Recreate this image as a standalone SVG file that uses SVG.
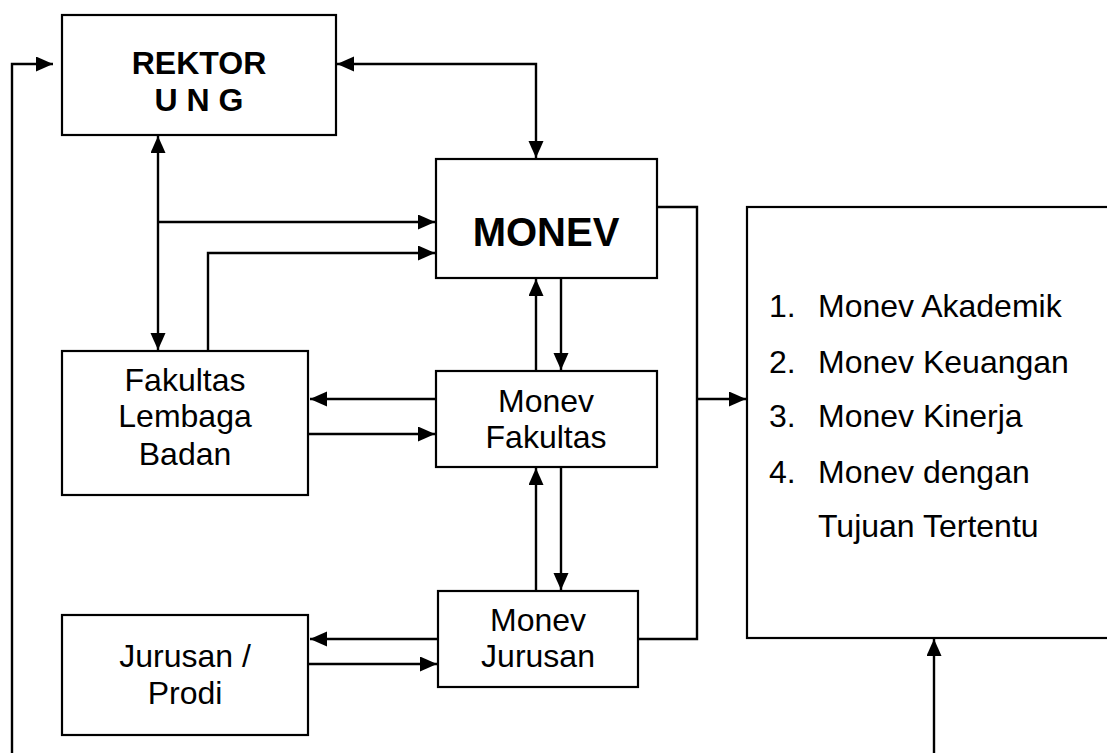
<svg xmlns="http://www.w3.org/2000/svg" width="1107" height="753" viewBox="0 0 1107 753">
  <style>
    .box { fill: #ffffff; stroke: #000000; stroke-width: 2.2; }
    .wire { fill: none; stroke: #000000; stroke-width: 2.4; }
    .lbl { font-family: "Liberation Sans", Arial, sans-serif; font-size: 32px; fill: #000000; text-anchor: middle; }
    .bold { font-weight: bold; }
    .item { font-family: "Liberation Sans", Arial, sans-serif; font-size: 32px; fill: #000000; }
  </style>
  <defs>
    <marker id="arrow" markerUnits="userSpaceOnUse" markerWidth="19" markerHeight="16" refX="17" refY="7.5" orient="auto-start-reverse">
      <path d="M0,0 L17,7.5 L0,15 Z" fill="#000000"/>
    </marker>
  </defs>
  <rect width="1107" height="753" fill="#ffffff"/>

  <g id="connectors">
    <!-- feedback loop along the left edge into REKTOR -->
    <polyline class="wire" points="12,753 12,64 53,64" marker-end="url(#arrow)"/>
    <!-- REKTOR <-> MONEV -->
    <polyline class="wire" points="337,64 536,64 536,158" marker-start="url(#arrow)" marker-end="url(#arrow)"/>
    <!-- REKTOR <-> Fakultas -->
    <line class="wire" x1="158" y1="136" x2="158" y2="350" marker-start="url(#arrow)" marker-end="url(#arrow)"/>
    <line class="wire" x1="158" y1="222" x2="435" y2="222" marker-end="url(#arrow)"/>
    <polyline class="wire" points="208,351 208,253 435,253" marker-end="url(#arrow)"/>
    <!-- MONEV <-> Monev Fakultas -->
    <line class="wire" x1="536" y1="371" x2="536" y2="279" marker-end="url(#arrow)"/>
    <line class="wire" x1="561" y1="279" x2="561" y2="370" marker-end="url(#arrow)"/>
    <!-- Monev Fakultas <-> Fakultas -->
    <line class="wire" x1="436" y1="399" x2="310" y2="399" marker-end="url(#arrow)"/>
    <line class="wire" x1="308" y1="434" x2="435" y2="434" marker-end="url(#arrow)"/>
    <!-- Monev Fakultas <-> Monev Jurusan -->
    <line class="wire" x1="536" y1="591" x2="536" y2="468" marker-end="url(#arrow)"/>
    <line class="wire" x1="561" y1="467" x2="561" y2="590" marker-end="url(#arrow)"/>
    <!-- Monev Jurusan <-> Jurusan / Prodi -->
    <line class="wire" x1="438" y1="639" x2="310" y2="639" marker-end="url(#arrow)"/>
    <line class="wire" x1="308" y1="664" x2="437" y2="664" marker-end="url(#arrow)"/>
    <!-- collector from MONEV and Monev Jurusan into the result list -->
    <polyline class="wire" points="657,207 697,207 697,639 638,639"/>
    <line class="wire" x1="697" y1="399" x2="746" y2="399" marker-end="url(#arrow)"/>
    <!-- feedback from below into the result list -->
    <line class="wire" x1="934" y1="753" x2="934" y2="639" marker-end="url(#arrow)"/>
  </g>

  <g id="rektor">
    <rect class="box" x="62" y="15" width="274" height="120"/>
    <text class="lbl bold" x="199" y="74">REKTOR</text>
    <text class="lbl bold" x="199" y="111">U N G</text>
  </g>

  <g id="monev">
    <rect class="box" x="436" y="159" width="221" height="119"/>
    <text class="lbl bold" x="546" y="246" style="font-size:40px">MONEV</text>
  </g>

  <g id="fakultas">
    <rect class="box" x="62" y="351" width="246" height="144"/>
    <text class="lbl" x="185" y="391">Fakultas</text>
    <text class="lbl" x="185" y="427">Lembaga</text>
    <text class="lbl" x="185" y="465">Badan</text>
  </g>

  <g id="monev-fakultas">
    <rect class="box" x="436" y="371" width="221" height="96"/>
    <text class="lbl" x="546" y="412">Monev</text>
    <text class="lbl" x="546" y="448">Fakultas</text>
  </g>

  <g id="monev-jurusan">
    <rect class="box" x="438" y="591" width="200" height="96"/>
    <text class="lbl" x="538" y="631">Monev</text>
    <text class="lbl" x="538" y="667">Jurusan</text>
  </g>

  <g id="jurusan-prodi">
    <rect class="box" x="62" y="615" width="246" height="120"/>
    <text class="lbl" x="185" y="667">Jurusan /</text>
    <text class="lbl" x="185" y="704">Prodi</text>
  </g>

  <g id="jenis-monev">
    <rect class="box" x="747" y="207" width="420" height="431"/>
    <text class="item" x="769" y="317">1.</text>
    <text class="item" x="818" y="317">Monev Akademik</text>
    <text class="item" x="769" y="373">2.</text>
    <text class="item" x="818" y="373">Monev Keuangan</text>
    <text class="item" x="769" y="427">3.</text>
    <text class="item" x="818" y="427">Monev Kinerja</text>
    <text class="item" x="769" y="483">4.</text>
    <text class="item" x="818" y="483">Monev dengan</text>
    <text class="item" x="818" y="537">Tujuan Tertentu</text>
  </g>
</svg>
